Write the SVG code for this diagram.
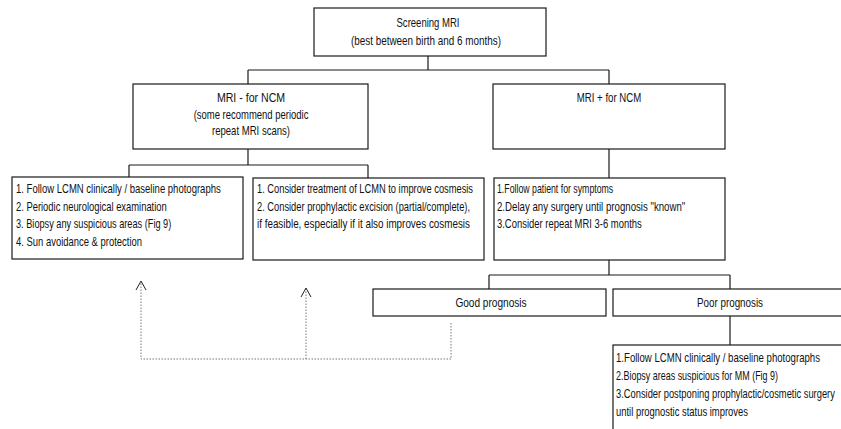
<svg xmlns="http://www.w3.org/2000/svg" width="841" height="429" viewBox="0 0 841 429">
<style>
  .box { fill: #fff; stroke: #1a1a1a; stroke-width: 1.2; }
  .t { font-family: "Liberation Sans", Arial, sans-serif; font-size: 13px; fill: #111; }
  .c { text-anchor: middle; }
  .ln { stroke: #1a1a1a; stroke-width: 1.2; fill: none; }
  .dot { stroke: #777; stroke-width: 1; stroke-dasharray: 1.5 1.5; fill: none; }
  .ah { stroke: #222; stroke-width: 1; fill: none; }
</style>
<rect width="841" height="429" fill="#fff"/>
<g id="connectors">
  <path class="ln" d="M428 56V70M248 70H609M248 70V84M609 70V84"/>
  <path class="ln" d="M248 149V165M129 165H368M129 165V177M368 165V178"/>
  <path class="ln" d="M609 149V178"/>
  <path class="ln" d="M609 260V275M489 275H730M489 275V289M730 275V289"/>
  <path class="ln" d="M730 316V345"/>
  <path class="dot" d="M451 323V359H141V282M306 359V289"/>
  <path class="ah" d="M136 290L141 281L146 290M301 297L306 288L311 297"/>
</g>
<g id="screening">
  <rect class="box" x="314" y="8" width="232" height="48"/>
  <text class="t c" transform="translate(428,27) scale(0.75,1)" textLength="84" lengthAdjust="spacingAndGlyphs">Screening MRI</text>
  <text class="t c" transform="translate(426,45) scale(0.75,1)" textLength="200" lengthAdjust="spacingAndGlyphs">(best between birth and 6 months)</text>
</g>
<g id="mri-neg">
  <rect class="box" x="133" y="84" width="235" height="65"/>
  <text class="t c" transform="translate(251,102) scale(0.75,1)" textLength="91" lengthAdjust="spacingAndGlyphs">MRI - for NCM</text>
  <text class="t c" transform="translate(251,119) scale(0.75,1)" textLength="153" lengthAdjust="spacingAndGlyphs">(some recommend periodic</text>
  <text class="t c" transform="translate(251,135) scale(0.75,1)" textLength="104" lengthAdjust="spacingAndGlyphs">repeat MRI scans)</text>
</g>
<g id="mri-pos">
  <rect class="box" x="493" y="84" width="232" height="65"/>
  <text class="t c" transform="translate(609,102) scale(0.75,1)" textLength="86" lengthAdjust="spacingAndGlyphs">MRI + for NCM</text>
</g>
<g id="neg-follow">
  <rect class="box" x="12" y="177" width="231" height="82"/>
  <text class="t" transform="translate(16,193) scale(0.75,1)" textLength="273" lengthAdjust="spacingAndGlyphs">1. Follow LCMN clinically / baseline photographs</text>
  <text class="t" transform="translate(16,211) scale(0.75,1)" textLength="201" lengthAdjust="spacingAndGlyphs">2. Periodic neurological examination</text>
  <text class="t" transform="translate(16,228) scale(0.75,1)" textLength="207" lengthAdjust="spacingAndGlyphs">3. Biopsy any suspicious areas (Fig 9)</text>
  <text class="t" transform="translate(16,246) scale(0.75,1)" textLength="168" lengthAdjust="spacingAndGlyphs">4. Sun avoidance &amp; protection</text>
</g>
<g id="neg-treat">
  <rect class="box" x="253" y="178" width="231" height="82"/>
  <text class="t" transform="translate(257,193) scale(0.75,1)" textLength="288" lengthAdjust="spacingAndGlyphs">1. Consider treatment of LCMN to improve cosmesis</text>
  <text class="t" transform="translate(257,211) scale(0.75,1)" textLength="284" lengthAdjust="spacingAndGlyphs">2. Consider prophylactic excision (partial/complete),</text>
  <text class="t" transform="translate(257,228) scale(0.75,1)" textLength="284" lengthAdjust="spacingAndGlyphs">if feasible, especially if it also improves cosmesis</text>
</g>
<g id="pos-follow">
  <rect class="box" x="494" y="178" width="231" height="82"/>
  <text class="t" transform="translate(497,193) scale(0.75,1)" textLength="155" lengthAdjust="spacingAndGlyphs">1.Follow patient for symptoms</text>
  <text class="t" transform="translate(497,211) scale(0.75,1)" textLength="251" lengthAdjust="spacingAndGlyphs">2.Delay any surgery until prognosis "known"</text>
  <text class="t" transform="translate(497,228) scale(0.75,1)" textLength="193" lengthAdjust="spacingAndGlyphs">3.Consider repeat MRI 3-6 months</text>
</g>
<g id="good">
  <rect class="box" x="373" y="289" width="233" height="27"/>
  <text class="t c" transform="translate(491,307) scale(0.75,1)" textLength="95" lengthAdjust="spacingAndGlyphs">Good prognosis</text>
</g>
<g id="poor">
  <rect class="box" x="613" y="289" width="240" height="27"/>
  <text class="t c" transform="translate(730,307) scale(0.75,1)" textLength="88" lengthAdjust="spacingAndGlyphs">Poor prognosis</text>
</g>
<g id="poor-follow">
  <rect class="box" x="613" y="345" width="240" height="100"/>
  <text class="t" transform="translate(616,362) scale(0.75,1)" textLength="272" lengthAdjust="spacingAndGlyphs">1.Follow LCMN clinically / baseline photographs</text>
  <text class="t" transform="translate(616,380) scale(0.75,1)" textLength="216" lengthAdjust="spacingAndGlyphs">2.Biopsy areas suspicious for MM (Fig 9)</text>
  <text class="t" transform="translate(616,398) scale(0.72,1)" textLength="304" lengthAdjust="spacingAndGlyphs">3.Consider postponing prophylactic/cosmetic surgery</text>
  <text class="t" transform="translate(616,416) scale(0.75,1)" textLength="176" lengthAdjust="spacingAndGlyphs">until prognostic status improves</text>
</g>
</svg>
